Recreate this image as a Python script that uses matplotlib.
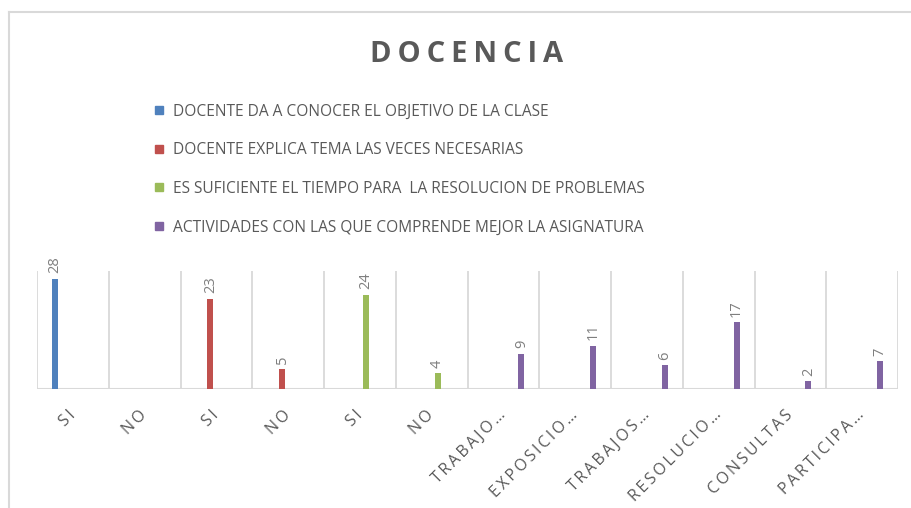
import numpy as np
import matplotlib
matplotlib.use("Agg")
import matplotlib.pyplot as plt
from matplotlib.lines import Line2D

categories = ["SI", "NO", "SI", "NO", "SI", "NO", "TRABAJO…", "EXPOSICIO…",
              "TRABAJOS…", "RESOLUCIO…", "CONSULTAS", "PARTICIPA…"]
series_names = [
    "DOCENTE DA A CONOCER EL OBJETIVO DE LA CLASE",
    "DOCENTE EXPLICA TEMA LAS VECES NECESARIAS",
    "ES SUFICIENTE EL TIEMPO PARA  LA RESOLUCION DE PROBLEMAS",
    "ACTIVIDADES CON LAS QUE COMPRENDE MEJOR LA ASIGNATURA",
]
nan = np.nan
objetivo = [28, nan, nan, nan, nan, nan, nan, nan, nan, nan, nan, nan]
explica = [nan, nan, 23, 5, nan, nan, nan, nan, nan, nan, nan, nan]
tiempo = [nan, nan, nan, nan, 24, 4, nan, nan, nan, nan, nan, nan]
actividades = [nan, nan, nan, nan, nan, nan, 9, 11, 6, 17, 2, 7]
colors = ["#4f81bd", "#c0504d", "#9bbb59", "#8064a2"]

plt.rcParams['font.family'] = ['Open Sans', 'DejaVu Sans']
text_gray = "#595959"
label_gray = "#7f7f7f"

fig = plt.figure(figsize=(9.11, 5.08), dpi=100)
ax = fig.add_axes([37 / 911, 1 - 389 / 508, 861 / 911, 118 / 508])

x = np.arange(len(categories))
offsets = [-0.25, -0.0833, 0.0833, 0.25]
for vals, off, c in zip([objetivo, explica, tiempo, actividades], offsets, colors):
    vals = np.array(vals, dtype=float)
    ax.bar(x + off, vals, width=0.085, color=c, zorder=3)
    for xi, v in zip(x, vals):
        if not np.isnan(v):
            ax.annotate(f"{int(v)}", (xi + off, v), xytext=(0, 4),
                        textcoords="offset points", rotation=90,
                        ha="center", va="bottom", color=label_gray, fontsize=10.5)

ax.set_xlim(-0.5, len(categories) - 0.5)
ax.set_ylim(0, 30)
# vertical separators between categories
for b in np.arange(-0.5, len(categories), 1.0):
    ax.axvline(b, color="#d9d9d9", lw=1.3, zorder=1)
for s in ax.spines.values():
    s.set_visible(False)
ax.axhline(0, color="#d9d9d9", lw=1.5, zorder=2)
ax.set_yticks([])
ax.set_xticks(x)
ax.set_xticklabels(["\u2009".join(c) for c in categories], rotation=45,
                   ha="right", va="center", rotation_mode="anchor",
                   color=text_gray, fontsize=11.5)
ax.tick_params(axis="x", length=0, pad=17)

handles = [Line2D([], [], marker="s", ls="", color=c, markersize=6) for c in colors]
fig.legend(handles, series_names, loc="upper left", bbox_to_anchor=(147 / 911, 1 - 96 / 508),
           frameon=False, fontsize=11.2, labelcolor=text_gray, labelspacing=1.45,
           handlelength=0.6, handletextpad=0.6, borderpad=0)

fig.text(467 / 911, 1 - 54 / 508, "\u2009".join("DOCENCIA"), ha="center", va="center",
         fontsize=21, fontweight="bold", color=text_gray)

# chart border (only top and left visible)
fig.add_artist(Line2D([9 / 911, 9 / 911], [0, 1 - 12 / 508], color="#d9d9d9", lw=1.5,
                      transform=fig.transFigure))
fig.add_artist(Line2D([9 / 911, 1], [1 - 12 / 508, 1 - 12 / 508], color="#d9d9d9", lw=1.5,
                      transform=fig.transFigure))

fig.savefig("out.png", dpi=100)
